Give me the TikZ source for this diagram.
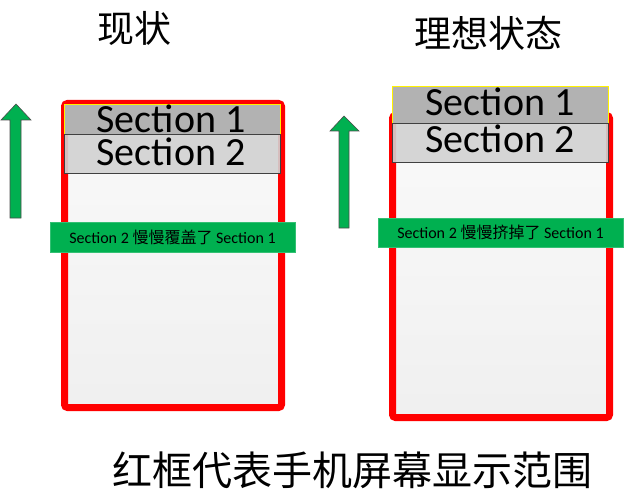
\documentclass[tikz,border=0pt]{standalone}
\usepackage{fontspec}
\setmainfont{Carlito}
\newfontfamily\cjk{Noto Sans CJK SC}
\definecolor{offgreen}{HTML}{00B050}
\definecolor{sgone}{HTML}{B2B2B2}
\definecolor{sgtwo}{HTML}{D2D2D2}
\tikzset{
  screenframe/.style={draw=red, line width=7pt, rounded corners=3pt, top color=white!98!black, bottom color=white!94!black, minimum width=217pt, inner sep=0pt},
  secone/.style={draw=yellow, line width=0.8pt, fill=sgone, minimum width=216pt, inner sep=0pt},
  sectwo/.style={draw=black!75, line width=0.8pt, fill=sgtwo, fill opacity=0.9, minimum width=216pt, minimum height=39pt, inner sep=0pt},
  sectext/.style={anchor=base, font=\fontsize{40}{42}\selectfont, inner sep=0pt},
  banner/.style={fill=offgreen, draw=offgreen!80!white, minimum width=245pt, inner sep=0pt, font=\fontsize{16}{18}\selectfont},
  uparrow/.style={fill=offgreen, draw=black!70, line width=0.6pt},
  title/.style={font=\cjk\fontsize{37}{40}\selectfont, inner sep=0pt}
}
\begin{document}
\begin{tikzpicture}[x=1pt, y=-1pt]
\useasboundingbox (0,0) rectangle (624,500);
% titles
\node[title] (t1) at (134,28) {现状};
\node[title] (t2) at (488,33) {理想状态};
% left screen
\node[screenframe, minimum height=304pt] (f1) at (173,255.5) {};
\node[secone, minimum height=30pt] (s11) at (172.5,119) {};
\node[sectwo] (s12) at (172.5,153.5) {};
\node[sectext] (s11t) at (171,133) {Section 1};
\node[sectext] (s12t) at (171,165) {Section 2};
\node[banner, minimum height=30pt] (b1) at (172.5,237) {Section 2 {\cjk 慢慢覆盖了} Section 1};
\draw[uparrow] (16,104) -- (31,120) -- (21,120) -- (21,218) -- (10,218) -- (10,120) -- (1,120) -- cycle;
% right screen
\node[screenframe, minimum height=302pt] (f2) at (501,266.5) {};
\node[secone, minimum height=37pt] (s21) at (500.5,104.5) {};
\node[sectwo] (s22) at (500.5,142.5) {};
\node[sectext] (s21t) at (500,116) {Section 1};
\node[sectext] (s22t) at (500,153) {Section 2};
\node[banner, minimum height=29pt] (b2) at (500.5,232.5) {Section 2 {\cjk 慢慢挤掉了} Section 1};
\draw[uparrow] (344,116) -- (359,131) -- (349,131) -- (349,228) -- (339,228) -- (339,131) -- (330,131) -- cycle;
% caption
\node[title, font=\cjk\fontsize{40}{44}\selectfont] (cap) at (352,470) {红框代表手机屏幕显示范围};
\end{tikzpicture}
\end{document}
